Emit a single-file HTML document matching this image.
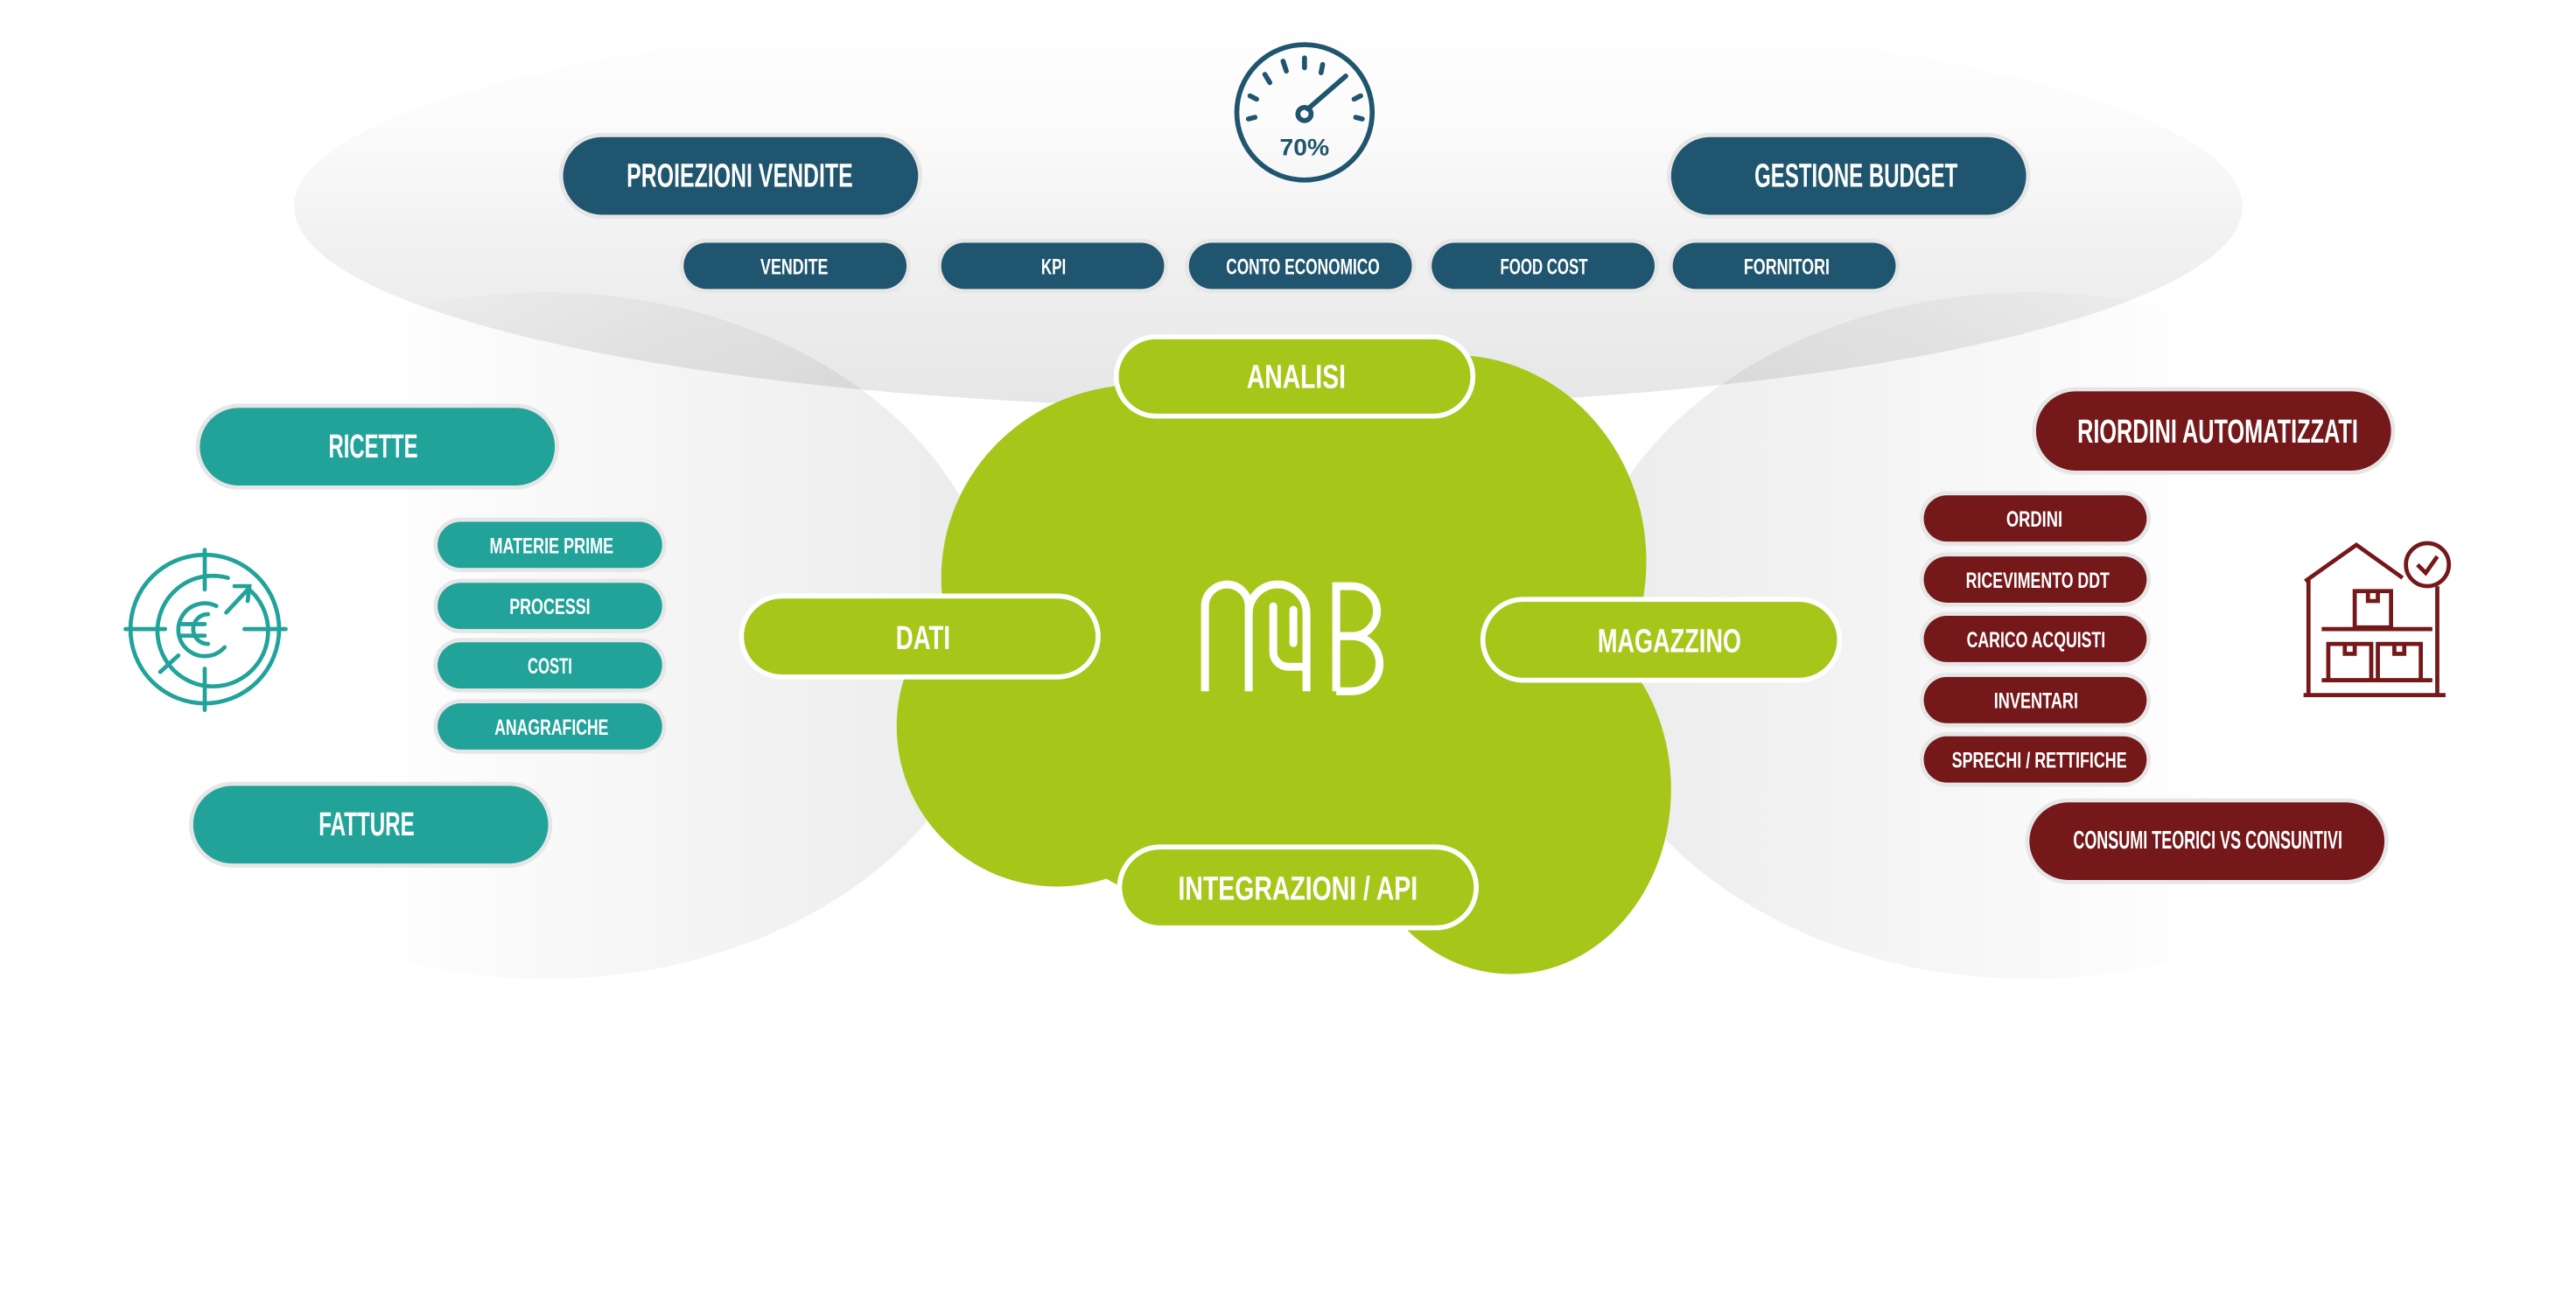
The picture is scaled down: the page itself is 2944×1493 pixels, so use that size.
<!DOCTYPE html>
<html><head><meta charset="utf-8"><style>
html,body{margin:0;padding:0;background:#fff;}
svg{display:block;}
text{font-family:"Liberation Sans Narrow","Liberation Sans",sans-serif;font-weight:bold;fill:#fff;}
</style></head><body>
<svg width="2944" height="1493" viewBox="0 0 1560 791" xmlns="http://www.w3.org/2000/svg">
<defs>
<linearGradient id="gt" x1="0" y1="0" x2="0" y2="1">
<stop offset="0" stop-color="#ffffff"/><stop offset="0.3" stop-color="#fbfbfb"/><stop offset="0.6" stop-color="#f1f1f1"/><stop offset="1" stop-color="#e6e6e6"/></linearGradient>
<linearGradient id="gl" x1="0" y1="0" x2="1" y2="0">
<stop offset="0" stop-color="#ffffff"/><stop offset="0.3" stop-color="#ffffff"/><stop offset="0.6" stop-color="#f6f6f6"/><stop offset="1" stop-color="#ebebeb"/></linearGradient>
<linearGradient id="gr" x1="0" y1="0" x2="1" y2="0">
<stop offset="0" stop-color="#ebebeb"/><stop offset="0.4" stop-color="#f6f6f6"/><stop offset="0.7" stop-color="#ffffff"/><stop offset="1" stop-color="#ffffff"/></linearGradient>
</defs>
<rect width="1560" height="791" fill="#fff"/>
<ellipse cx="768" cy="125" rx="590" ry="122" fill="url(#gt)" style="mix-blend-mode:multiply"/>
<ellipse cx="330" cy="385" rx="275" ry="208" fill="url(#gl)" style="mix-blend-mode:multiply"/>
<ellipse cx="1230" cy="385" rx="275" ry="208" fill="url(#gr)" style="mix-blend-mode:multiply"/>

<g fill="#a7c61a">
<ellipse cx="690" cy="350" rx="120" ry="117"/>
<ellipse cx="640" cy="440" rx="97" ry="97"/>
<ellipse cx="880" cy="340" rx="117" ry="125"/>
<ellipse cx="915" cy="478" rx="97" ry="112"/>
<ellipse cx="780" cy="410" rx="190" ry="150"/>
<ellipse cx="785" cy="290" rx="90" ry="45"/>
</g>

<g transform="scale(0.52994)" fill="none" stroke="#fff" stroke-width="9" stroke-linecap="round">
<path d="M1377 790 V693 A25 25 0 0 1 1427 693 V790" stroke-linecap="butt"/>
<path d="M1427 701 A33 33 0 0 1 1493 701 V790" stroke-linecap="butt"/>
<path d="M1455 693 V745 A17 17 0 0 0 1472 762 H1493"/>
<path d="M1478 735 V697"/>
<path d="M1527 790 V670 H1545 A28.5 28.5 0 0 1 1545 727 H1527 M1545 727 A31.5 31.5 0 0 1 1545 790 H1527" stroke-linecap="butt"/>
</g>

<g fill="none" stroke="#1f556e" stroke-width="3" stroke-linecap="round">
<circle cx="790" cy="68" r="41"/>
<line x1="790" y1="35" x2="790" y2="41"/>
<line x1="777" y1="37" x2="779" y2="43"/>
<line x1="801" y1="39" x2="800" y2="44"/>
<line x1="766" y1="45" x2="769" y2="50"/>
<line x1="757" y1="58" x2="761" y2="60"/>
<line x1="756" y1="72" x2="760" y2="71"/>
<line x1="824" y1="58" x2="820" y2="60"/>
<line x1="825" y1="72" x2="821" y2="71"/>
<line x1="792" y1="66" x2="815" y2="46"/>
<circle cx="790" cy="69" r="4"/>
</g>
<text x="790" y="94" font-size="14" text-anchor="middle" style="fill:#1f556e" textLength="30" lengthAdjust="spacingAndGlyphs">70%</text>

<g fill="none" stroke="#21a39a" stroke-width="2.5" stroke-linecap="round">
<circle cx="124" cy="381" r="45"/>
<path d="M152 358 A33.5 33.5 0 1 1 138 350"/>
<path d="M136 392 A16 16 0 1 1 131 367"/>
<line x1="124" y1="333" x2="124" y2="357"/><line x1="124" y1="405" x2="124" y2="430"/>
<line x1="76" y1="381" x2="100" y2="381"/><line x1="148" y1="381" x2="173" y2="381"/>
<path d="M126 372 A9 9 0 1 0 126 390"/>
<line x1="110" y1="378" x2="124" y2="378"/><line x1="110" y1="385" x2="124" y2="385"/>
<line x1="97" y1="407" x2="108" y2="397"/>
<line x1="137" y1="371" x2="151" y2="356"/>
<path d="M142 355 L151 355 L150 364"/>
</g>

<g fill="none" stroke="#74181a" stroke-width="2.5">
<path d="M1396 352 L1427 330 L1455 350"/>
<path d="M1398 350 V420 M1476 355 V420 M1395 421 H1481"/>
<circle cx="1470" cy="342" r="13"/>
<path d="M1464 342 L1469 347 L1476 337"/>
<rect x="1426" y="358" width="22" height="22"/>
<path d="M1434 358 V364 H1440 V358"/>
<line x1="1406" y1="381" x2="1473" y2="381"/>
<rect x="1410" y="390" width="26" height="22"/>
<rect x="1440" y="390" width="26" height="22"/>
<path d="M1420 390 V396 H1426 V390 M1450 390 V396 H1456 V390"/>
<line x1="1406" y1="412" x2="1473" y2="412"/>
</g>

<rect x="338.5" y="80.5" width="220" height="52" rx="26" fill="#e6e6e6"/>
<rect x="341" y="83" width="215" height="47" rx="23.5" fill="#1f556e"/>
<text x="448" y="113" font-size="20" text-anchor="middle" textLength="137" lengthAdjust="spacingAndGlyphs">PROIEZIONI VENDITE</text>
<rect x="1009.5" y="80.5" width="220" height="52" rx="26" fill="#e6e6e6"/>
<rect x="1012" y="83" width="215" height="47" rx="23.5" fill="#1f556e"/>
<text x="1124" y="113" font-size="20" text-anchor="middle" textLength="123" lengthAdjust="spacingAndGlyphs">GESTIONE BUDGET</text>
<g font-size="13">
<rect x="411.5" y="144.5" width="140" height="33" rx="16.5" fill="#e6e6e6"/><rect x="414" y="147" width="135" height="28" rx="14" fill="#1f556e"/>
<text x="481" y="166" text-anchor="middle" textLength="41" lengthAdjust="spacingAndGlyphs">VENDITE</text>
<rect x="567.5" y="144.5" width="140" height="33" rx="16.5" fill="#e6e6e6"/><rect x="570" y="147" width="135" height="28" rx="14" fill="#1f556e"/>
<text x="638" y="166" text-anchor="middle" textLength="15" lengthAdjust="spacingAndGlyphs">KPI</text>
<rect x="717.5" y="144.5" width="140" height="33" rx="16.5" fill="#e6e6e6"/><rect x="720" y="147" width="135" height="28" rx="14" fill="#1f556e"/>
<text x="789" y="166" text-anchor="middle" textLength="93" lengthAdjust="spacingAndGlyphs">CONTO ECONOMICO</text>
<rect x="864.5" y="144.5" width="140" height="33" rx="16.5" fill="#e6e6e6"/><rect x="867" y="147" width="135" height="28" rx="14" fill="#1f556e"/>
<text x="935" y="166" text-anchor="middle" textLength="53" lengthAdjust="spacingAndGlyphs">FOOD COST</text>
<rect x="1010.5" y="144.5" width="140" height="33" rx="16.5" fill="#e6e6e6"/><rect x="1013" y="147" width="135" height="28" rx="14" fill="#1f556e"/>
<text x="1082" y="166" text-anchor="middle" textLength="52" lengthAdjust="spacingAndGlyphs">FORNITORI</text>
</g>

<g font-size="20">
<rect x="676" y="204" width="216" height="48" rx="24" fill="#a7c61a" stroke="#fff" stroke-width="3"/>
<text x="785" y="235" text-anchor="middle" textLength="60" lengthAdjust="spacingAndGlyphs">ANALISI</text>
<rect x="449" y="361" width="216" height="49" rx="24.5" fill="#a7c61a" stroke="#fff" stroke-width="3"/>
<text x="559" y="393" text-anchor="middle" textLength="33" lengthAdjust="spacingAndGlyphs">DATI</text>
<rect x="898" y="363" width="216" height="49" rx="24.5" fill="#a7c61a" stroke="#fff" stroke-width="3"/>
<text x="1011" y="395" text-anchor="middle" textLength="87" lengthAdjust="spacingAndGlyphs">MAGAZZINO</text>
<rect x="678" y="513" width="216" height="49" rx="24.5" fill="#a7c61a" stroke="#fff" stroke-width="3"/>
<text x="786" y="545" text-anchor="middle" textLength="145" lengthAdjust="spacingAndGlyphs">INTEGRAZIONI / API</text>
</g>

<rect x="118.5" y="244.5" width="220" height="52" rx="26" fill="#e6e6e6"/>
<rect x="121" y="247" width="215" height="47" rx="23.5" fill="#21a39a"/>
<text x="226" y="277" font-size="20" text-anchor="middle" textLength="54" lengthAdjust="spacingAndGlyphs">RICETTE</text>
<rect x="114.5" y="473.5" width="220" height="52" rx="26" fill="#e6e6e6"/>
<rect x="117" y="476" width="215" height="47" rx="23.5" fill="#21a39a"/>
<text x="222" y="506" font-size="20" text-anchor="middle" textLength="58" lengthAdjust="spacingAndGlyphs">FATTURE</text>
<g font-size="13">
<rect x="262.5" y="313.5" width="141" height="33" rx="16.5" fill="#e6e6e6"/><rect x="265" y="316" width="136" height="28" rx="14" fill="#21a39a"/>
<text x="334" y="335" text-anchor="middle" textLength="75" lengthAdjust="spacingAndGlyphs">MATERIE PRIME</text>
<rect x="262.5" y="350.5" width="141" height="33" rx="16.5" fill="#e6e6e6"/><rect x="265" y="353" width="136" height="28" rx="14" fill="#21a39a"/>
<text x="333" y="372" text-anchor="middle" textLength="49" lengthAdjust="spacingAndGlyphs">PROCESSI</text>
<rect x="262.5" y="386.5" width="141" height="33" rx="16.5" fill="#e6e6e6"/><rect x="265" y="389" width="136" height="28" rx="14" fill="#21a39a"/>
<text x="333" y="408" text-anchor="middle" textLength="27" lengthAdjust="spacingAndGlyphs">COSTI</text>
<rect x="262.5" y="423.5" width="141" height="33" rx="16.5" fill="#e6e6e6"/><rect x="265" y="426" width="136" height="28" rx="14" fill="#21a39a"/>
<text x="334" y="445" text-anchor="middle" textLength="69" lengthAdjust="spacingAndGlyphs">ANAGRAFICHE</text>
</g>

<rect x="1230.5" y="234.5" width="220" height="53" rx="26.5" fill="#e6e6e6"/>
<rect x="1233" y="237" width="215" height="48" rx="24" fill="#74181a"/>
<text x="1343" y="268" font-size="20" text-anchor="middle" textLength="170" lengthAdjust="spacingAndGlyphs">RIORDINI AUTOMATIZZATI</text>
<rect x="1226.5" y="483.5" width="220" height="52" rx="26" fill="#e6e6e6"/>
<rect x="1229" y="486" width="215" height="47" rx="23.5" fill="#74181a"/>
<text x="1337" y="514" font-size="15" text-anchor="middle" textLength="163" lengthAdjust="spacingAndGlyphs">CONSUMI TEORICI VS CONSUNTIVI</text>
<g font-size="13">
<rect x="1162.5" y="297.5" width="140" height="33" rx="16.5" fill="#e6e6e6"/><rect x="1165" y="300" width="135" height="28" rx="14" fill="#74181a"/>
<text x="1232" y="319" text-anchor="middle" textLength="34" lengthAdjust="spacingAndGlyphs">ORDINI</text>
<rect x="1162.5" y="334.5" width="140" height="33" rx="16.5" fill="#e6e6e6"/><rect x="1165" y="337" width="135" height="28" rx="14" fill="#74181a"/>
<text x="1234" y="356" text-anchor="middle" textLength="87" lengthAdjust="spacingAndGlyphs">RICEVIMENTO DDT</text>
<rect x="1162.5" y="370.5" width="140" height="33" rx="16.5" fill="#e6e6e6"/><rect x="1165" y="373" width="135" height="28" rx="14" fill="#74181a"/>
<text x="1233" y="392" text-anchor="middle" textLength="84" lengthAdjust="spacingAndGlyphs">CARICO ACQUISTI</text>
<rect x="1162.5" y="407.5" width="140" height="33" rx="16.5" fill="#e6e6e6"/><rect x="1165" y="410" width="135" height="28" rx="14" fill="#74181a"/>
<text x="1233" y="429" text-anchor="middle" textLength="51" lengthAdjust="spacingAndGlyphs">INVENTARI</text>
<rect x="1162.5" y="443.5" width="140" height="33" rx="16.5" fill="#e6e6e6"/><rect x="1165" y="446" width="135" height="28" rx="14" fill="#74181a"/>
<text x="1235" y="465" text-anchor="middle" textLength="106" lengthAdjust="spacingAndGlyphs">SPRECHI / RETTIFICHE</text>
</g>
</svg>
</body></html>
